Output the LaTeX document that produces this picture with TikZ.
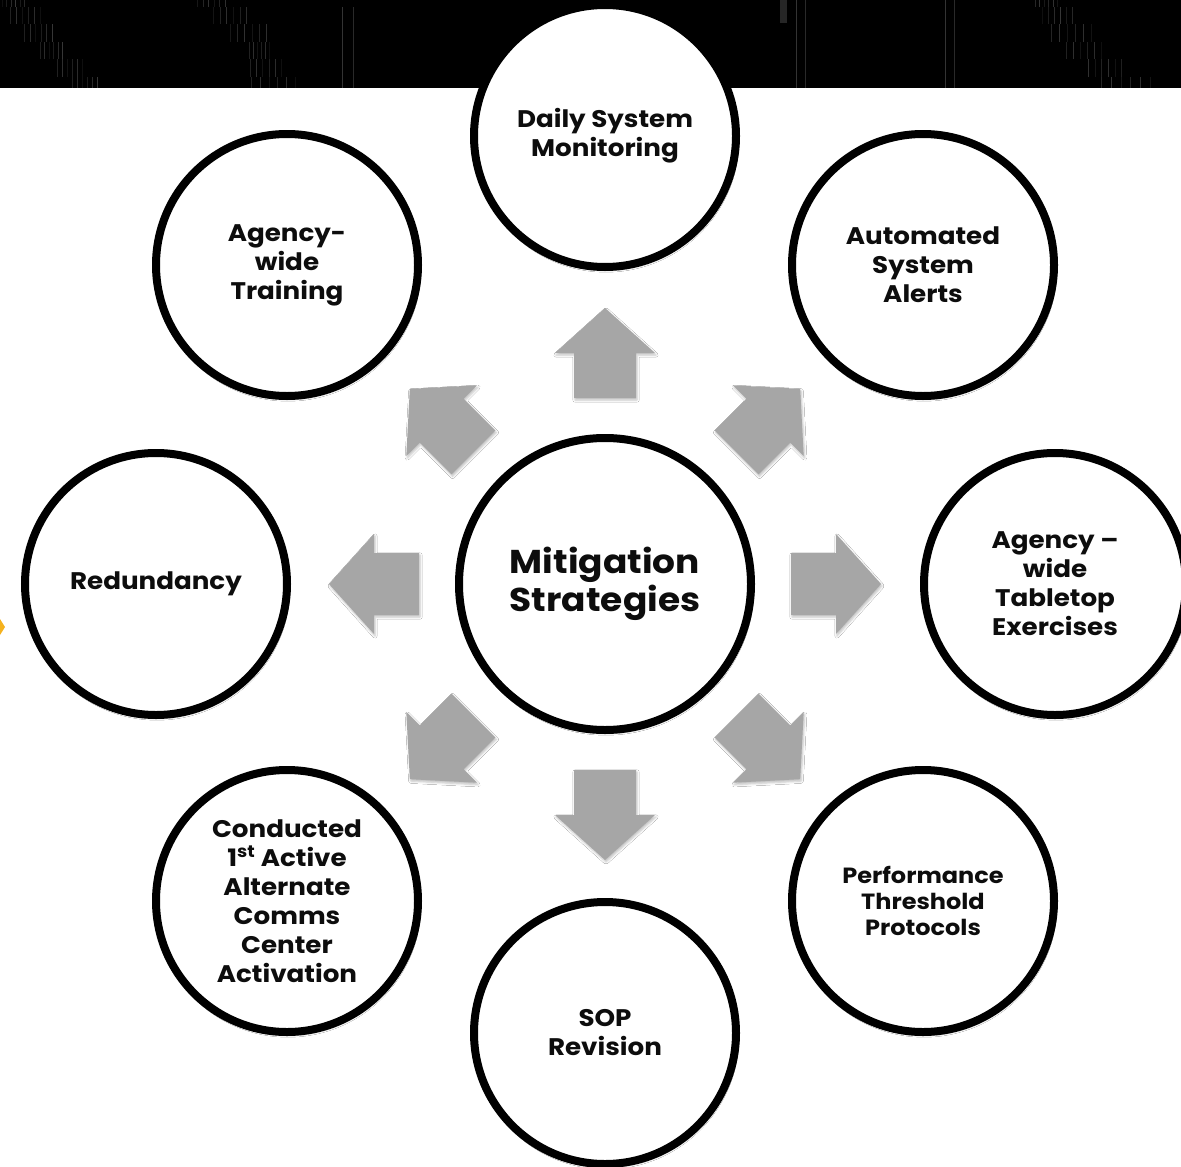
\documentclass[tikz,border=0pt]{standalone}
\usepackage{fontspec}
\setmainfont{Poppins}[FakeStretch=1.09]
\usetikzlibrary{shadows.blur}
\definecolor{arrowgray}{HTML}{A6A6A6}
\definecolor{txt}{HTML}{0D0D0D}
\definecolor{gold}{HTML}{F5B21E}
\tikzset{
  ring/.style={circle, draw=black, line width=8pt, fill=white, minimum size=262pt,
    inner sep=0pt, align=center, text=txt,
    font=\bfseries\fontsize{24}{29}\selectfont,
    blur shadow={shadow xshift=1pt, shadow yshift=-3pt, shadow blur steps=6, shadow opacity=30}},
  hub/.style={ring, minimum size=292pt, font=\bfseries\fontsize{33}{38}\selectfont},
  smallring/.style={ring, font=\bfseries\fontsize{22}{26}\selectfont},
  blockarrow/.style={fill=arrowgray, draw=none,
    blur shadow={shadow xshift=1pt, shadow yshift=-2pt, shadow blur steps=4, shadow opacity=25}},
  bandline/.style={line width=1pt}
}
\newcommand\mystreak[4]{%
  \foreach \i in {0,...,5}{%
    \pgfmathsetmacro\xx{#1+(\i+0.5)*(#2-#1)/6}%
    \pgfmathtruncatemacro\gg{mod(\i*37+#1,16)+6}%
    \draw[bandline, white!\gg!black] (\xx,#3) -- (\xx,#4);
  }}
\begin{document}
\begin{tikzpicture}[x=1pt,y=-1pt]
\useasboundingbox (0,0) rectangle (1181,1167);
\clip (0,0) rectangle (1181,1167);
\fill[white] (0,0) rectangle (1181,1167);
% dark photo band
\fill[black] (0,0) rectangle (1181,88);
\mystreak{0}{27}{0}{7}
\mystreak{7}{43}{7}{24}
\mystreak{22}{55}{24}{42}
\mystreak{38}{65}{42}{59}
\mystreak{55}{85}{59}{77}
\mystreak{70}{100}{77}{88}
\mystreak{195}{228}{0}{7}
\mystreak{210}{250}{7}{24}
\mystreak{227}{270}{24}{42}
\mystreak{247}{272}{42}{59}
\mystreak{247}{285}{59}{77}
\mystreak{247}{300}{77}{88}
\mystreak{1033}{1060}{0}{7}
\mystreak{1040}{1075}{7}{24}
\mystreak{1048}{1095}{24}{42}
\mystreak{1063}{1105}{42}{59}
\mystreak{1085}{1125}{59}{77}
\mystreak{1097}{1155}{77}{88}
\draw[bandline, white!20!black] (342,7) -- (342,88);
\draw[bandline, white!16!black] (353,7) -- (353,88);
\draw[bandline, white!20!black] (796,0) -- (796,88);
\draw[bandline, white!16!black] (805,0) -- (805,88);
\draw[bandline, white!20!black] (945,0) -- (945,88);
\draw[bandline, white!16!black] (954,0) -- (954,88);
\fill[white!15!black] (780,0) rectangle (787,23);
% yellow tip at left edge
\fill[gold] (0,619) -- (5,627) -- (0,635) -- cycle;
% block arrows
\foreach \a in {0,45,...,315}{
  \fill[blockarrow, rotate around={\a:(605,584)}]
    (574,398) -- (574,353) -- (555,353) -- (605,308) -- (655,353) -- (636,353) -- (636,398) -- cycle;
}
% circles
\node[hub] (hub) at (605,584) {Mitigation\\Strategies};
\node[ring] (daily) at (605,136) {Daily System\\Monitoring};
\node[ring] (alerts) at (923,265) {Automated\\System\\Alerts};
\node[ring] (tabletop) at (1055,584) {Agency –\\wide\\Tabletop\\Exercises};
\node[smallring] (perf) at (923,901) {Performance\\Threshold\\Protocols};
\node[ring] (sop) at (605,1033) {SOP\\Revision};
\node[ring] (comms) at (287,901) {Conducted\\1\textsuperscript{st} Active\\Alternate\\Comms\\Center\\Activation};
\node[ring] (redund) at (156,584) {Redundancy};
\node[ring] (training) at (287,265) {Agency-\\wide\\Training};
\end{tikzpicture}
\end{document}
